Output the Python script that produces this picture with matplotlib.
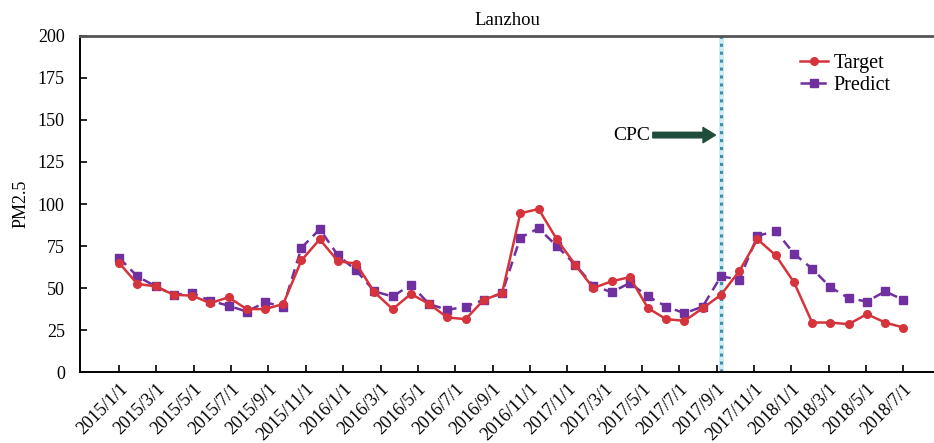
import numpy as np
import matplotlib
matplotlib.use('Agg')
import matplotlib.pyplot as plt

plt.rcParams['font.family'] = ['Liberation Serif', 'DejaVu Serif']

# monthly PM2.5, Lanzhou (44 points)
target = [65, 52.5, 51, 46, 45.5, 41, 44.5, 37.5, 37.5, 40.5,
          66.5, 79, 66, 64.5, 47.5, 37.5, 46.5, 40.5, 32.5, 31.5,
          43, 47, 94.5, 97, 79, 64, 50, 54, 56.5, 38,
          31.5, 30.5, 38, 46, 60, 79, 69.5, 53.5, 29.5, 29.5,
          28.5, 34.5, 29.5, 26.5]
predict = [68, 57, 51, 46, 47, 42.5, 39.5, 36, 41.5, 39,
           74, 85, 69.5, 60.5, 48, 45, 52, 40.5, 37, 39,
           43, 47, 80, 85.5, 75, 64, 51.5, 47.5, 53, 45,
           39, 35, 39, 57, 55, 81, 84, 70.5, 61.5, 50.5,
           44, 42, 48, 43]
tick_labels = ['2015/1/1', '2015/3/1', '2015/5/1', '2015/7/1', '2015/9/1', '2015/11/1',
               '2016/1/1', '2016/3/1', '2016/5/1', '2016/7/1', '2016/9/1', '2016/11/1',
               '2017/1/1', '2017/3/1', '2017/5/1', '2017/7/1', '2017/9/1', '2017/11/1',
               '2018/1/1', '2018/3/1', '2018/5/1', '2018/7/1']
cpc_index = 33

x = np.arange(len(target))
tick_pos = np.linspace(0, len(target) - 1, len(tick_labels))

fig = plt.figure(figsize=(9.34, 4.43), dpi=100)
ax = fig.add_axes([0.0857, 0.160, 0.9143, 0.759])

ax.axvline(cpc_index, color='#b5e6f0', lw=3.5, alpha=0.7, zorder=1)
ax.axvline(cpc_index, color='#3a8fa3', lw=2.2, ls=(0, (1, 1.6)), zorder=2)

ax.plot(x, target, color='#d6343c', lw=1.8, marker='o', ms=5.5, label='Target', zorder=4)
ax.plot(x, predict, color='#7030a0', lw=1.8, ls=(0, (4, 2.5)), marker='s', ms=5.5,
        label='Predict', zorder=3)

ax.annotate('CPC', xy=(32.7, 141), xytext=(28.1, 141), fontsize=14,
            ha='center', va='center',
            arrowprops=dict(facecolor='#1f4d3b', edgecolor='#1f4d3b', width=4,
                            headwidth=11, headlength=9, shrinkA=22, shrinkB=0))

ax.set_xlim(-2.14, 44.68)
ax.set_ylim(0, 200)
ax.set_yticks(np.arange(0, 201, 25))
ax.set_xticks(tick_pos)
ax.set_xticklabels(tick_labels, rotation=45, ha='right', rotation_mode='anchor')
ax.tick_params(axis='both', direction='in', labelsize=13, length=5, width=1.2)
ax.tick_params(axis='x', pad=6)
ax.tick_params(axis='y', pad=11)

ax.spines['right'].set_visible(False)
ax.spines['top'].set_color('#555555')
ax.spines['top'].set_linewidth(2)
ax.spines['left'].set_linewidth(1.4)
ax.spines['bottom'].set_linewidth(1.4)

ax.set_ylabel('PM2.5', fontsize=13, labelpad=6)
ax.set_title('Lanzhou', fontsize=13.5, pad=8)

ax.legend(loc='upper right', bbox_to_anchor=(0.97, 1.0), frameon=False, fontsize=14.5,
          handlelength=1.4, handletextpad=0.25, labelspacing=0.15)

fig.savefig('out.png', dpi=100)
